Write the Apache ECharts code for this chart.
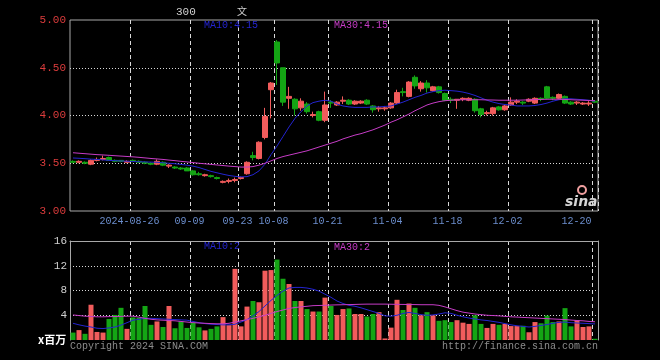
<!DOCTYPE html>
<html><head><meta charset="utf-8">
<script src="https://cdn.jsdelivr.net/npm/echarts@6/dist/echarts.min.js"></script>
<style>html,body{margin:0;padding:0;background:#000}#c{width:660px;height:360px}</style>
</head><body><div id="c"></div>
<script>
const dates = ['2024-08-12','2024-08-13','2024-08-14','2024-08-15','2024-08-16','2024-08-19','2024-08-20','2024-08-21','2024-08-22','2024-08-23',
'2024-08-26','2024-08-27','2024-08-28','2024-08-29','2024-08-30','2024-09-02','2024-09-03','2024-09-04','2024-09-05','2024-09-06',
'2024-09-09','2024-09-10','2024-09-11','2024-09-12','2024-09-13','2024-09-18','2024-09-19','2024-09-20',
'2024-09-23','2024-09-24','2024-09-25','2024-09-26','2024-09-27','2024-09-30',
'2024-10-08','2024-10-09','2024-10-10','2024-10-11','2024-10-14','2024-10-15','2024-10-16','2024-10-17','2024-10-18',
'2024-10-21','2024-10-22','2024-10-23','2024-10-24','2024-10-25','2024-10-28','2024-10-29','2024-10-30','2024-10-31','2024-11-01',
'2024-11-04','2024-11-05','2024-11-06','2024-11-07','2024-11-08','2024-11-11','2024-11-12','2024-11-13','2024-11-14','2024-11-15',
'2024-11-18','2024-11-19','2024-11-20','2024-11-21','2024-11-22','2024-11-25','2024-11-26','2024-11-27','2024-11-28','2024-11-29',
'2024-12-02','2024-12-03','2024-12-04','2024-12-05','2024-12-06','2024-12-09','2024-12-10','2024-12-11','2024-12-12','2024-12-13',
'2024-12-16','2024-12-17','2024-12-18','2024-12-19','2024-12-20'];

const open  = [3.52,3.51,3.51,3.49,3.53,3.54,3.56,3.53,3.53,3.51, 3.53,3.52,3.51,3.50,3.49,3.51,3.47,3.46,3.45,3.45,
3.42,3.39,3.37,3.37,3.35,3.30,3.31,3.32, 3.34,3.39,3.58,3.55,3.77,4.27, 4.77,4.50,4.18,4.17,4.08,4.12,4.00,4.04,3.95,
4.14,4.11,4.15,4.16,4.12,4.13,4.16,4.10,4.07,4.07, 4.08,4.13,4.25,4.20,4.40,4.28,4.34,4.26,4.30,4.23,
4.17,4.16,4.17,4.16,4.17,4.07,4.02,4.02,4.09,4.06, 4.11,4.14,4.14,4.15,4.13,4.18,4.30,4.19,4.18,4.20,4.14,4.13,4.12,4.12,4.15];
const close = [3.51,3.52,3.50,3.53,3.54,3.55,3.53,3.52,3.52,3.52, 3.52,3.51,3.50,3.49,3.52,3.48,3.48,3.45,3.44,3.42,
3.38,3.38,3.38,3.36,3.34,3.31,3.32,3.33, 3.35,3.51,3.56,3.72,3.99,4.34, 4.55,4.14,4.20,4.07,4.15,4.04,4.01,3.95,4.11,
4.13,4.14,4.16,4.12,4.15,4.15,4.12,4.06,4.08,4.08, 4.13,4.24,4.24,4.35,4.31,4.34,4.29,4.30,4.24,4.16,
4.16,4.17,4.18,4.18,4.05,4.01,4.03,4.08,4.06,4.10, 4.14,4.15,4.13,4.17,4.18,4.17,4.18,4.18,4.22,4.13,4.12,4.14,4.13,4.13,4.14];
const low   = [3.50,3.50,3.49,3.48,3.52,3.53,3.53,3.51,3.51,3.50, 3.51,3.50,3.49,3.48,3.48,3.47,3.45,3.44,3.43,3.42,
3.37,3.37,3.36,3.35,3.33,3.29,3.29,3.30, 3.33,3.38,3.53,3.54,3.75,3.97, 4.32,4.10,4.07,4.00,4.05,4.02,3.98,3.94,3.93,
4.08,4.10,4.12,4.11,4.11,4.12,4.11,4.03,4.04,4.05, 4.07,4.12,4.20,4.19,4.28,4.25,4.24,4.25,4.23,4.15,
4.13,4.07,4.15,4.15,4.03,3.98,4.00,4.00,4.05,4.05, 4.10,4.12,4.11,4.14,4.12,4.15,4.17,4.16,4.17,4.12,4.11,4.11,4.11,4.10,4.13];
const high  = [3.53,3.53,3.52,3.54,3.56,3.58,3.57,3.54,3.53,3.53, 3.54,3.53,3.52,3.51,3.54,3.52,3.49,3.47,3.46,3.46,
3.43,3.41,3.39,3.38,3.36,3.32,3.34,3.35, 3.36,3.52,3.62,3.73,4.08,4.35, 4.79,4.50,4.30,4.18,4.18,4.14,4.04,4.05,4.25,
4.16,4.15,4.20,4.17,4.16,4.16,4.17,4.11,4.10,4.10, 4.14,4.27,4.29,4.36,4.42,4.36,4.37,4.31,4.31,4.24,
4.19,4.17,4.19,4.19,4.18,4.08,4.05,4.09,4.10,4.11, 4.19,4.17,4.15,4.18,4.19,4.19,4.31,4.20,4.23,4.21,4.15,4.15,4.14,4.15,4.16];

const volume = [1.2,1.6,1.0,5.7,1.3,1.2,3.4,4.05,5.2,1.8, 3.65,3.6,5.5,2.45,3.0,2.1,5.5,1.9,3.0,1.95,
2.8,2.05,1.55,1.8,2.2,3.7,2.4,11.5, 2.2,5.4,6.3,6.1,11.2,11.3, 13.0,9.9,9.05,6.3,6.3,5.0,4.6,4.6,6.85,
5.5,4.05,5.0,5.1,4.2,4.2,3.8,4.2,4.5,0.25, 2.0,6.5,4.85,5.9,5.2,4.0,4.5,4.0,3.1,3.2,
2.9,3.2,2.8,2.6,4.0,2.6,1.95,2.6,2.45,2.6, 2.25,2.25,2.3,1.25,2.9,2.7,3.95,2.9,3.0,5.15,2.2,3.2,2.1,2.2,0.2];

const ma10 = [3.555,3.552,3.548,3.543,3.54,3.535,3.53,3.527,3.524,3.521, 3.518,3.516,3.514,3.512,3.51,3.505,3.50,3.495,3.488,3.48,
3.47,3.455,3.435,3.415,3.40,3.385,3.372,3.363,3.357,3.36, 3.38,3.42,3.49,3.59,3.68,3.78,3.88,3.97,4.04,4.10,
4.135,4.15,4.16,4.15,4.12,4.10,4.09,4.085,4.085,4.085, 4.09,4.09,4.095,4.10,4.12,4.14,4.165,4.19,4.21,4.235,
4.25,4.26,4.265,4.26,4.255,4.245,4.23,4.21,4.185,4.16, 4.14,4.125,4.115,4.11,4.10,4.10,4.10,4.105,4.115,4.13,
4.15,4.165,4.175,4.175,4.17,4.165,4.16,4.15];
const ma30 = [3.61,3.605,3.60,3.595,3.59,3.587,3.583,3.579,3.575,3.571, 3.567,3.562,3.556,3.55,3.545,3.54,3.533,3.527,3.52,3.514,
3.507,3.50,3.494,3.488,3.482,3.476,3.47,3.465,3.46,3.46, 3.465,3.48,3.50,3.525,3.55,3.57,3.585,3.60,3.615,3.63,
3.65,3.67,3.69,3.71,3.73,3.755,3.775,3.795,3.81,3.83, 3.85,3.875,3.90,3.93,3.955,3.985,4.015,4.05,4.08,4.11,
4.13,4.145,4.155,4.16,4.163,4.165,4.165,4.165,4.165,4.163, 4.162,4.16,4.16,4.16,4.16,4.162,4.164,4.166,4.168,4.17,
4.17,4.17,4.168,4.165,4.162,4.16,4.157,4.155];
const volMa10 = [2.7,2.45,2.25,2.1,1.9,1.85,1.95,2.1,2.4,2.8, 3.2,3.35,3.5,3.5,3.45,3.4,3.35,3.3,3.25,3.2,
3.0,2.8,2.65,2.55,2.5,2.45,2.45,2.55,2.9,3.3, 3.9,4.6,5.5,6.4,7.2,7.9,8.4,8.5,8.5,8.4,
8.2,7.9,7.4,6.9,6.3,5.9,5.6,5.45,5.2,4.9, 4.6,4.3,3.9,3.85,4.0,4.3,4.45,4.3,4.1,4.0,
4.05,4.2,4.4,4.3,4.0,3.75,3.55,3.4,3.25,3.15, 3.0,2.85,2.65,2.45,2.3,2.2,2.1,2.2,2.35,2.5,
2.7,2.85,2.9,2.8,2.75,2.7,2.65,2.6];
const volMa30 = [4.05,3.95,3.85,3.8,3.75,3.75,3.78,3.8,3.82,3.85, 3.85,3.7,3.5,3.35,3.25,3.2,3.15,3.1,3.0,2.9,
2.8,2.75,2.7,2.65,2.62,2.62,2.7,2.9,3.1,3.3, 3.5,3.75,4.0,4.3,4.6,4.85,5.1,5.25,5.35,5.45,
5.55,5.58,5.6,5.65,5.68,5.7,5.72,5.75,5.78,5.8, 5.8,5.8,5.8,5.78,5.76,5.75,5.73,5.72,5.7,5.7,
5.7,5.6,5.35,5.05,4.75,4.5,4.35,4.2,4.1,4.0, 3.95,3.9,3.82,3.75,3.7,3.65,3.6,3.55,3.5,3.45,
3.4,3.35,3.3,3.22,3.15,3.1,3.0,2.95];

const tickDates = ['2024-08-26','2024-09-09','2024-09-23','2024-10-08','2024-10-21','2024-11-04','2024-11-18','2024-12-02','2024-12-20'];
const legendTexts = {priceMa10:'MA10:4.15', priceMa30:'MA30:4.15', volMa10:'MA10:2', volMa30:'MA30:2'};

const FONT = 'Liberation Mono';
const RED = '#f25c5c', GREEN = '#14a514';
const BLUE = '#2424d0', MAG = '#c63cc6';
const FRAME = '#a8a8a8', GRIDC = '#d8d8d8';
const isUp = close.map((c, i) => c >= open[i]);
const showTick = (idx, val) => tickDates.indexOf(val) >= 0;

const chart = echarts.init(document.getElementById('c'), null, {renderer: 'canvas'});
const tstyle = (color, size, fam, weight) => ({color, fontSize: size, fontFamily: fam || FONT, fontWeight: weight || 'normal'});
const splitX = {show: true, interval: showTick, lineStyle: {color: GRIDC, type: [4, 3], width: 1}};
const splitY = {show: true, showMinLine: false, showMaxLine: false, lineStyle: {color: GRIDC, type: [1, 2], width: 1}};

chart.setOption({
  backgroundColor: '#000',
  animation: false,
  title: [
    {text: '300', left: 176, top: 7, padding: 0, textStyle: tstyle('#d0d0d0', 11)},
    {text: '文', left: 237, top: 6, padding: 0, textStyle: tstyle('#d0d0d0', 10, 'Noto Sans CJK SC')},
    {text: legendTexts.priceMa10, left: 204, top: 20, padding: 0, textStyle: tstyle(BLUE, 10)},
    {text: legendTexts.priceMa30, left: 334, top: 20, padding: 0, textStyle: tstyle(MAG, 10)},
    {text: legendTexts.volMa10, left: 204, top: 241, padding: 0, textStyle: tstyle(BLUE, 10)},
    {text: legendTexts.volMa30, left: 334, top: 242, padding: 0, textStyle: tstyle(MAG, 10)},
    {text: 'x百万', left: 38, top: 334, padding: 0, textStyle: tstyle('#ffffff', 11, 'Noto Sans CJK SC', 'bold')},
    {text: 'Copyright 2024 SINA.COM', left: 70, top: 341, padding: 0, textStyle: tstyle('#8c8c8c', 10)},
    {text: 'http://finance.sina.com.cn', left: 442, top: 341, padding: 0, textStyle: tstyle('#8c8c8c', 10)}
  ],
  graphic: [
    {type: 'circle', shape: {cx: 582, cy: 190, r: 4}, style: {fill: 'none', stroke: '#f0a0a0', lineWidth: 2}},
    {type: 'text', x: 565, y: 195, style: {text: 'sina', fill: '#d4d4d4', font: 'italic bold 14px "DejaVu Sans"'}}
  ],
  grid: [
    {left: 70, top: 20, width: 528, height: 191, show: true, borderColor: FRAME, borderWidth: 1, backgroundColor: 'transparent'},
    {left: 70, top: 241, width: 528, height: 99}
  ],
  xAxis: [
    {type: 'category', gridIndex: 0, data: dates, boundaryGap: true,
     axisLine: {show: false}, axisTick: {show: false},
     axisLabel: {interval: showTick, margin: 5,
       formatter: v => v === '2024-12-20' ? '{e|' + v.slice(5) + '}' : '{a|' + (v === '2024-08-26' ? v : v.slice(5)) + '}',
       rich: {
         a: {fontFamily: FONT, fontSize: 10, color: '#6b8dcc', padding: [0, 7, 0, 0]},
         e: {fontFamily: FONT, fontSize: 10, color: '#6b8dcc', padding: [0, 37, 0, 0]}
       }},
     splitLine: splitX},
    {type: 'category', gridIndex: 1, data: dates, boundaryGap: true, position: 'top',
     axisLine: {show: true, onZero: false, lineStyle: {color: FRAME}}, axisTick: {show: false}, axisLabel: {show: false},
     splitLine: splitX}
  ],
  yAxis: [
    {type: 'value', gridIndex: 0, min: 3, max: 5, interval: 0.5,
     axisLine: {show: false}, axisTick: {show: false},
     axisLabel: {color: '#dc3c3c', fontFamily: FONT, fontSize: 11, margin: 4, formatter: v => v.toFixed(2)},
     splitLine: splitY},
    {type: 'value', gridIndex: 1, min: 0, max: 16, interval: 4,
     axisLine: {show: true, lineStyle: {color: FRAME}}, axisTick: {show: false},
     axisLabel: {showMinLabel: false, color: '#d0d0d0', fontFamily: FONT, fontSize: 11, margin: 3},
     splitLine: splitY},
    {type: 'value', gridIndex: 1, min: 0, max: 16, interval: 4, position: 'right',
     axisLine: {show: true, lineStyle: {color: FRAME}}, axisTick: {show: false}, axisLabel: {show: false},
     splitLine: {show: false}}
  ],
  series: [
    {type: 'candlestick', xAxisIndex: 0, yAxisIndex: 0, barWidth: 5,
     data: open.map((o, i) => [o, close[i], low[i], high[i]]),
     itemStyle: {color: RED, color0: GREEN, borderColor: RED, borderColor0: GREEN, borderWidth: 1}},
    {type: 'line', xAxisIndex: 0, yAxisIndex: 0, data: ma10, symbol: 'none', lineStyle: {color: BLUE, width: 1}},
    {type: 'line', xAxisIndex: 0, yAxisIndex: 0, data: ma30, symbol: 'none', lineStyle: {color: MAG, width: 1}},
    {type: 'bar', xAxisIndex: 1, yAxisIndex: 1, barWidth: 5,
     data: volume.map((v, i) => ({value: v, itemStyle: {color: isUp[i] ? RED : GREEN}}))},
    {type: 'line', xAxisIndex: 1, yAxisIndex: 1, data: volMa10, symbol: 'none', lineStyle: {color: BLUE, width: 1}},
    {type: 'line', xAxisIndex: 1, yAxisIndex: 1, data: volMa30, symbol: 'none', lineStyle: {color: MAG, width: 1}}
  ]
});
</script>
</body></html>
